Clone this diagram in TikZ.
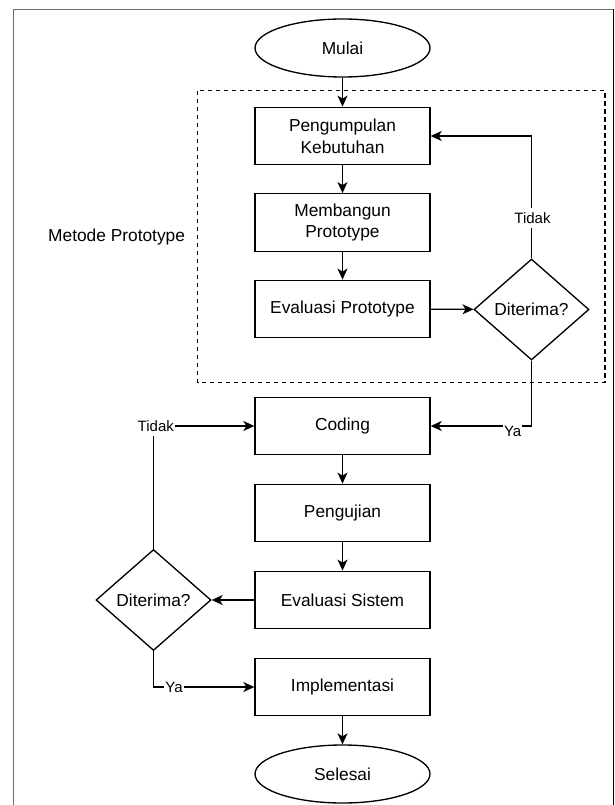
\documentclass[tikz,border=0pt]{standalone}
\usepackage{fontspec}
\setmainfont{Liberation Sans}
\usetikzlibrary{shapes.geometric,arrows.meta}
\definecolor{framegray}{HTML}{6E6E6E}
\tikzset{
  px/.style={x=0.75pt,y=-0.75pt},
  mainfont/.style={font=\fontsize{13}{16.25}\selectfont},
  labelfont/.style={font=\fontsize{11.25}{13}\selectfont},
  procbox/.style={draw, line width=1pt, rectangle, minimum width=131.25pt, minimum height=43.1pt, inner sep=0pt, align=center, mainfont},
  termnode/.style={draw, line width=1pt, ellipse, minimum width=131.25pt, minimum height=43.5pt, inner sep=0pt, mainfont},
  decnode/.style={draw, line width=1pt, diamond, minimum width=86.25pt, minimum height=75.75pt, inner sep=0pt, mainfont},
  flow/.style={line width=1pt, -{Stealth[length=8.25pt,width=7.5pt,inset=2.25pt]}},
  plain/.style={line width=1pt},
  edgelabel/.style={fill=white, inner xsep=0.75pt, inner ysep=3pt, labelfont},
  groupbox/.style={draw, line width=0.9pt, dash pattern=on 3.4pt off 2.6pt},
}
\begin{document}
\begin{tikzpicture}[px]
\useasboundingbox (0,0) rectangle (614,805);
% outer frame
\draw[framegray, line width=1.1pt] (13.7,806) -- (13.7,9.5) -- (613.3,9.5);
\draw[black, line width=1.1pt] (613.3,9.5) -- (613.3,806);
% dashed group
\draw[groupbox] (197.7,90.7) rectangle (605,382.7);
\node[mainfont] (metode) at (116.6,237) {Metode Prototype};
% nodes
\node[termnode] (mulai) at (342.5,48) {Mulai};
\node[procbox] (kebutuhan) at (342.5,136) {Pengumpulan\\Kebutuhan};
\node[procbox] (bangun) at (342.5,222.5) {Membangun\\Prototype};
\node[procbox] (evalproto) at (342.5,309) {Evaluasi Prototype};
\node[decnode] (dec1) at (531.5,309.5) {Diterima?};
\node[procbox] (coding) at (342.5,426) {Coding};
\node[procbox] (uji) at (342.5,513) {Pengujian};
\node[procbox] (evalsis) at (342.5,600) {Evaluasi Sistem};
\node[decnode] (dec2) at (153.5,600) {Diterima?};
\node[procbox] (impl) at (342.5,687) {Implementasi};
\node[termnode] (selesai) at (342.5,774) {Selesai};
% connectors
\draw[flow] (mulai) -- (kebutuhan);
\draw[flow] (kebutuhan) -- (bangun);
\draw[flow] (bangun) -- (evalproto);
\draw[flow] (evalproto) -- (dec1);
\draw[flow] (dec1.north) |- (kebutuhan.east);
\draw[flow] (dec1.south) |- (coding.east);
\draw[flow] (coding) -- (uji);
\draw[flow] (uji) -- (evalsis);
\draw[flow] (evalsis) -- (dec2);
\draw[flow] (dec2.north) |- (coding.west);
\draw[flow] (dec2.south) |- (impl.west);
\draw[flow] (impl) -- (selesai);
% edge labels
\node[edgelabel] (tidak1) at (532.5,218) {Tidak};
\node[edgelabel] (ya1) at (512.7,431.7) {Ya};
\node[edgelabel] (tidak2) at (155.8,426) {Tidak};
\node[edgelabel] (ya2) at (174,687.3) {Ya};
\end{tikzpicture}
\end{document}
